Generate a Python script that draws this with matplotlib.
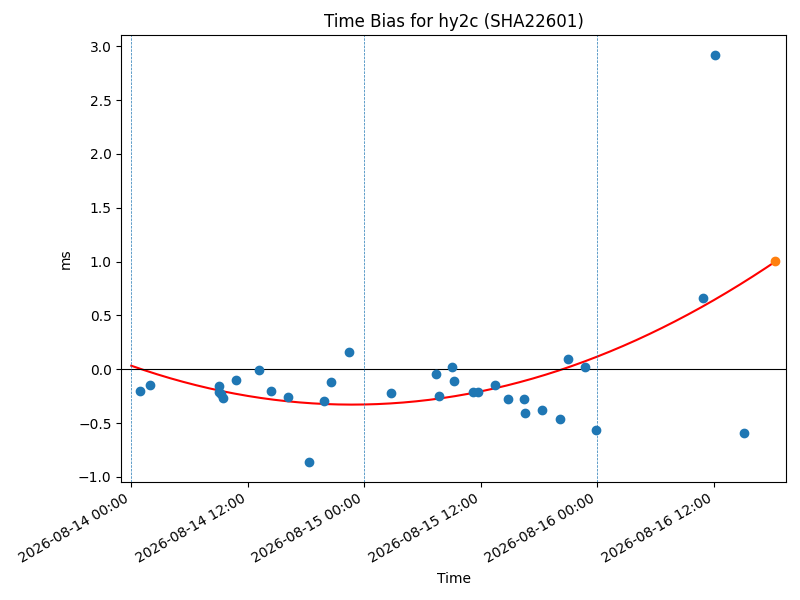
import numpy as np
import pandas as pd
import matplotlib
matplotlib.use("Agg")
import matplotlib.pyplot as plt
import matplotlib.dates as mdates

times = [
    "2026-08-14 00:56", "2026-08-14 01:57", "2026-08-14 08:59", "2026-08-14 08:59",
    "2026-08-14 09:14", "2026-08-14 09:24", "2026-08-14 10:49", "2026-08-14 13:11",
    "2026-08-14 14:23", "2026-08-14 16:08", "2026-08-14 18:20", "2026-08-14 19:53",
    "2026-08-14 20:36", "2026-08-14 22:26", "2026-08-15 02:45", "2026-08-15 07:25",
    "2026-08-15 07:44", "2026-08-15 09:04", "2026-08-15 09:16", "2026-08-15 11:14",
    "2026-08-15 11:45", "2026-08-15 13:30", "2026-08-15 14:46", "2026-08-15 16:27",
    "2026-08-15 16:35", "2026-08-15 18:20", "2026-08-15 20:11", "2026-08-15 20:59",
    "2026-08-15 22:44", "2026-08-15 23:50", "2026-08-16 10:55", "2026-08-16 12:09",
    "2026-08-16 15:07",
]
bias_ms = [
    -0.199, -0.149, -0.154, -0.210,
    -0.233, -0.270, -0.096, -0.009,
    -0.205, -0.255, -0.858, -0.298,
    -0.115, 0.156, -0.224, -0.047,
    -0.245, 0.019, -0.105, -0.214,
    -0.208, -0.143, -0.273, -0.273,
    -0.407, -0.382, -0.466, 0.093,
    0.019, -0.562, 0.659, 2.916,
    -0.590,
]
pred_time = "2026-08-16 18:20"
pred_ms = 1.007
start_time = "2026-08-14 00:00"
midnights = ["2026-08-14", "2026-08-15", "2026-08-16"]

t = pd.to_datetime(times)
t0 = pd.Timestamp(start_time)
tp = pd.Timestamp(pred_time)
hrs = np.array([(x - t0).total_seconds() / 3600 for x in t])
coef = np.polyfit(hrs, np.array(bias_ms), 2)
hp = (tp - t0).total_seconds() / 3600
hh = np.linspace(0, hp, 200)
curve_t = [t0 + pd.Timedelta(hours=h) for h in hh]
curve_v = np.polyval(coef, hh)

fig, ax = plt.subplots(figsize=(8, 6), dpi=100)
ax.scatter(t, bias_ms, color="C0", zorder=3)
ax.plot(curve_t, curve_v, color="red", zorder=2)
ax.scatter([tp], [pred_ms], color="C1", zorder=4)
ax.axhline(0, color="black", linewidth=0.8)
for m in midnights:
    ax.axvline(pd.Timestamp(m), color="C0", linestyle="--", linewidth=0.5)
ax.set_xlim(t0 - pd.Timedelta(hours=1.03), tp + pd.Timedelta(hours=1.1))
ax.xaxis.set_major_locator(mdates.HourLocator(byhour=[0, 12]))
ax.xaxis.set_major_formatter(mdates.DateFormatter("%Y-%m-%d %H:%M"))
ax.set_title("Time Bias for hy2c (SHA22601)")
ax.set_xlabel("Time")
ax.set_ylabel("ms")
fig.autofmt_xdate()
fig.subplots_adjust(left=0.1516, right=0.9825, top=0.9417, bottom=0.1967)
fig.savefig("out.png", dpi=100)
